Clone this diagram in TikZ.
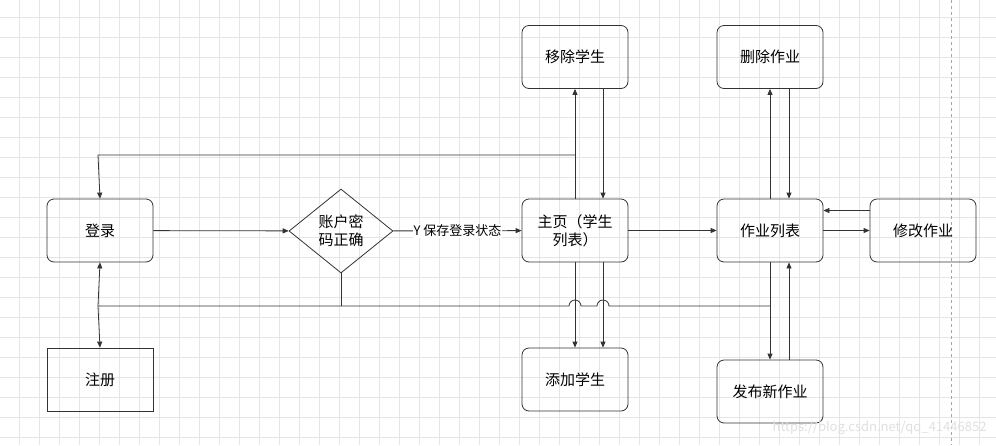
\documentclass[tikz,border=0pt]{standalone}
\usepackage{fontspec}
\setmainfont{Noto Sans CJK SC}
\usetikzlibrary{shapes.geometric,arrows.meta}
\begin{document}
\begin{tikzpicture}[x=1pt,y=-1pt,
  box/.style={draw=black!80,rounded corners=7pt,minimum width=106pt,minimum height=63pt,align=center,font=\fontsize{15}{18}\selectfont,line width=0.8pt},
  sq/.style={box,rounded corners=0pt},
  ar/.style={draw=black!80,line width=0.8pt,-{Triangle[length=6pt,width=5pt]}},
  ln/.style={draw=black!80,line width=0.8pt}]
\useasboundingbox (0,0) rectangle (996,445);
\fill[white] (0,0) rectangle (996,445);
\foreach \x in {19,39,...,996} \draw[black!10,line width=0.8pt] (\x,0) -- (\x,445);
\foreach \y in {17,37,...,445} \draw[black!10,line width=0.8pt] (0,\y) -- (996,\y);
\draw[black!35,dashed,line width=0.8pt] (951,0) -- (951,445);
\node[box] (login) at (100,230.5) {登录};
\node[sq] (reg) at (100,379.5) {注册};
\node[draw=black!80,diamond,aspect=1.25,minimum width=104pt,minimum height=84pt,inner sep=0pt,align=center,font=\fontsize{15}{18}\selectfont,line width=0.8pt] (chk) at (341,231) {账户密\\码正确};
\node[box] (home) at (575,230.5) {主页（学生\\列表）};
\node[box] (rm) at (575,57) {移除学生};
\node[box] (add) at (575,379.5) {添加学生};
\node[box] (hw) at (770,230.5) {作业列表};
\node[box] (del) at (770,57) {删除作业};
\node[box] (mod) at (923,230.5) {修改作业};
\node[box] (pub) at (770,391.5) {发布新作业};
\coordinate (t1) at (575,155);
\draw[ar] (login) -- (chk);
\draw[ar] (chk) -- node[fill=white,inner sep=1pt,font=\fontsize{13}{15}\selectfont]{Y 保存登录状态} (home);
\draw[ar] (home.north) -- (rm.south);
\draw[ar] (t1) -- (98,155) -- (login.north);
\draw[ar] ([xshift=28pt]rm.south) -- ([xshift=28pt]home.north);
\draw[ar] (home.south) -- (add.north);
\draw[ar] ([xshift=28pt]home.south) -- ([xshift=28pt]add.north);
\draw[ar] (home) -- (hw);
\draw[ar] (hw.north) -- (del.south);
\draw[ar] ([xshift=19pt]del.south) -- ([xshift=19pt]hw.north);
\draw[ar] (hw) -- (mod);
\draw[ar] ([yshift=20pt]mod.west) -- ([yshift=20pt]hw.east);
\draw[ar] (hw.south) -- (pub.north);
\draw[ar] ([xshift=19pt]pub.north) -- ([xshift=19pt]hw.south);
\draw[ln] (770,306) -- (609,306) arc (0:-180:6) -- (581,306) arc (0:-180:6) -- (98,306);
\draw[ln] (chk.south) -- (341,306);
\draw[ar] (98,306) -- (login.south);
\draw[ar] (98,306) -- (reg.north);
\node[anchor=east,text=black!12,font=\fontsize{13}{15}\selectfont] (wm) at (990,428) {https://blog.csdn.net/qq\_41446852};
\end{tikzpicture}
\end{document}
